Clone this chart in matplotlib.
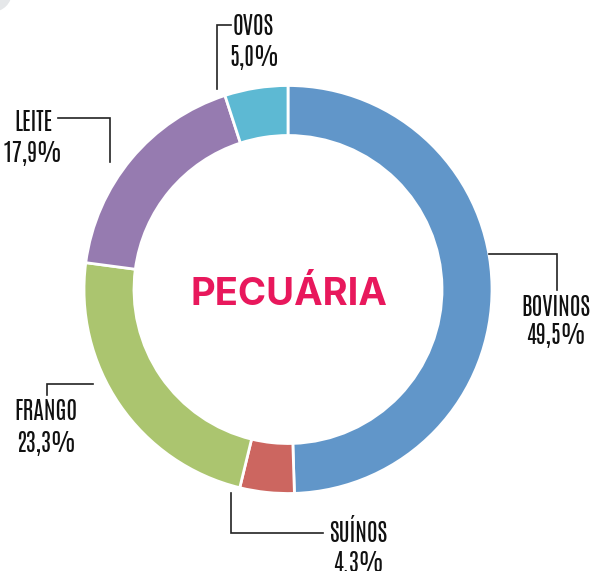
import matplotlib.pyplot as plt
from matplotlib.patches import Circle

# data
categories = ['BOVINOS', 'SUÍNOS', 'FRANGO', 'LEITE', 'OVOS']
shares = [49.5, 4.3, 23.3, 17.9, 5.0]
share_labels = ['49,5%', '4.3%', '23,3%', '17,9%', '5,0%']
colors = ['#6196C9', '#CC6660', '#ABC56F', '#967BB0', '#5DB9D3']

W, H = 599, 571


def fy(y):
    # pixel row -> data y
    return H - y


fig = plt.figure(figsize=(W / 100, H / 100), dpi=100)
ax = fig.add_axes([0, 0, 1, 1])

ax.pie(shares, colors=colors, startangle=90, counterclock=False,
       radius=204, center=(288, fy(289.5)),
       wedgeprops=dict(width=50, edgecolor='white', linewidth=2))

ax.add_patch(Circle((-8, fy(-8)), 20, color='#E5E7E9', lw=0))

ax.text(289, fy(295), 'PECUÁRIA', ha='center', va='center',
        fontsize=27.5, fontweight='bold', color='#E8185C',
        family=['Inter', 'DejaVu Sans'])

lab_font = dict(family=['Antonio', 'Oswald', 'DejaVu Sans'],
                fontsize=17, color='#111111')

# label layout: leader line points, name position, value position
layout = {
    'OVOS': ([(217, 89), (217, 25), (231, 25)], (233, 26, 'left'), (254, 58)),
    'LEITE': ([(110, 162), (110, 118), (58, 118)], (52, 122, 'right'), (32, 153)),
    'BOVINOS': ([(489, 254), (557, 254), (557, 290)], (556, 307, 'center'), (556, 336)),
    'FRANGO': ([(93, 384), (47, 384), (47, 395)], (46, 411, 'center'), (46, 444)),
    'SUÍNOS': ([(231, 493), (231, 533), (323, 533)], (329, 531, 'left'), (358, 563)),
}

for name, val in zip(categories, share_labels):
    pts, (nx, ny, nha), (vx, vy) = layout[name]
    ax.plot([p[0] for p in pts], [fy(p[1]) for p in pts],
            color='#222222', lw=1.2, solid_joinstyle='miter')
    ax.text(nx, fy(ny), name, ha=nha, va='center', **lab_font)
    ax.text(vx, fy(vy), val, ha='center', va='center', **lab_font)

ax.set_xlim(0, W)
ax.set_ylim(0, H)
ax.set_aspect('equal')
ax.axis('off')

fig.savefig('out.png', dpi=100, facecolor='white')
